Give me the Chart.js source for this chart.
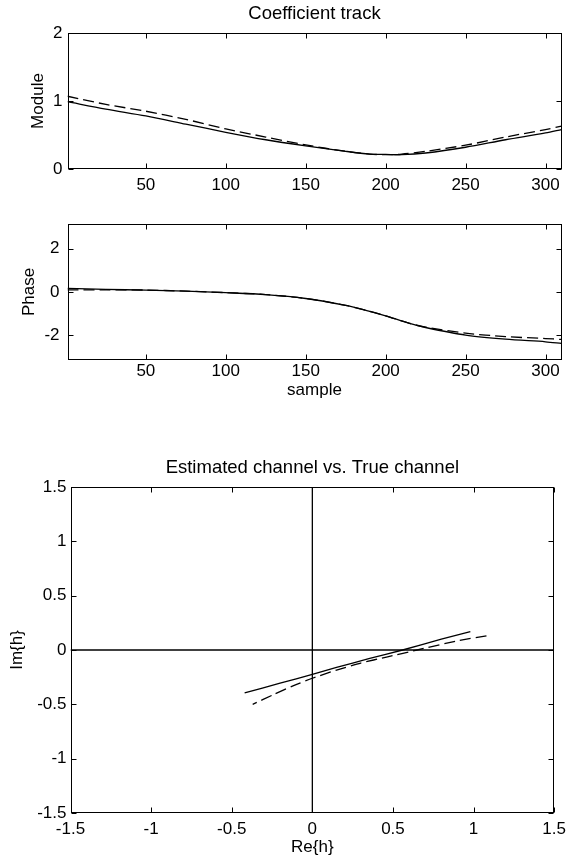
<!DOCTYPE html>
<html>
<head>
<meta charset="utf-8">
<script src="https://cdn.jsdelivr.net/npm/chart.js@4.4.1/dist/chart.umd.min.js"></script>
<style>
  body { margin: 0; background: #fff; }
  canvas { position: absolute; left: 0; }
</style>
</head>
<body>
<canvas id="module" width="572" height="200" style="top:0px"></canvas>
<canvas id="phase" width="572" height="210" style="top:200px"></canvas>
<canvas id="iq" width="572" height="453" style="top:410px"></canvas>
<script>
// values
const sampleTicks = [50, 100, 150, 200, 250, 300];

const moduleSamples = [1, 25, 50, 75, 100, 125, 150, 175, 190, 200, 210, 225, 250, 275, 300, 310];
const moduleTrue = [0.99, 0.88, 0.78, 0.66, 0.54, 0.43, 0.34, 0.26, 0.22, 0.215, 0.21, 0.235, 0.32, 0.43, 0.53, 0.58];
const moduleEst = [1.07, 0.95, 0.85, 0.73, 0.59, 0.47, 0.355, 0.26, 0.22, 0.21, 0.22, 0.26, 0.35, 0.47, 0.58, 0.63];
const moduleTicks = [0, 1, 2];

const phaseSamples = [1, 25, 50, 75, 100, 125, 150, 175, 190, 200, 215, 225, 250, 275, 300, 310];
const phaseTrue = [0.17, 0.12, 0.09, 0.04, -0.03, -0.12, -0.30, -0.62, -0.89, -1.10, -1.45, -1.64, -1.99, -2.18, -2.30, -2.37];
const phaseEst = [0.10, 0.10, 0.09, 0.04, -0.03, -0.12, -0.30, -0.62, -0.89, -1.10, -1.45, -1.62, -1.90, -2.06, -2.15, -2.19];
const phaseTicks = [-2, 0, 2];

const reTrue = [0.98, 0.80, 0.56, 0.35, 0.15, 0.00, -0.20, -0.42];
const imTrue = [0.17, 0.10, 0.00, -0.08, -0.16, -0.225, -0.305, -0.395];
const reEst = [1.08, 0.90, 0.65, 0.46, 0.30, 0.15, 0.00, -0.12, -0.24, -0.37];
const imEst = [0.13, 0.085, 0.00, -0.065, -0.12, -0.185, -0.26, -0.33, -0.41, -0.50];
const reImTicks = [-1.5, -1, -0.5, 0, 0.5, 1, 1.5];
const axisSpan = [-1.5, 1.5];

const FONT = '"Liberation Sans", Arial, Helvetica, sans-serif';
Chart.defaults.font.family = FONT;
Chart.defaults.font.size = 17;
Chart.defaults.color = '#000';

function pts(xs, ys) {
  return xs.map((x, i) => ({ x: x, y: ys[i] }));
}

// matlab style box with inward ticks + plot title
const boxPlugin = {
  id: 'box',
  afterDatasetsDraw(chart, args, opts) {
    const { ctx, chartArea: a, scales } = chart;
    const L = Math.round(a.left) + 0.5, R = Math.round(a.right) - 0.5;
    const T = Math.round(a.top) + 0.5, B = Math.round(a.bottom) - 0.5;
    ctx.save();
    ctx.strokeStyle = '#000';
    ctx.lineWidth = 1;
    ctx.strokeRect(L, T, R - L, B - T);
    const len = 5;
    ctx.beginPath();
    scales.x.ticks.forEach(t => {
      const px = Math.round(scales.x.getPixelForValue(t.value)) + 0.5;
      ctx.moveTo(px, B); ctx.lineTo(px, B - len);
      ctx.moveTo(px, T); ctx.lineTo(px, T + len);
    });
    scales.y.ticks.forEach(t => {
      const py = Math.round(scales.y.getPixelForValue(t.value)) + 0.5;
      ctx.moveTo(L, py); ctx.lineTo(L + len, py);
      ctx.moveTo(R, py); ctx.lineTo(R - len, py);
    });
    ctx.stroke();
    if (opts.text) {
      ctx.fillStyle = '#000';
      ctx.font = '18.5px ' + FONT;
      ctx.textAlign = 'center';
      ctx.textBaseline = 'alphabetic';
      ctx.fillText(opts.text, (a.left + a.right) / 2, opts.baseline);
    }
    ctx.restore();
  }
};

function lineSet(label, data, dashed, tension) {
  return {
    label: label,
    data: data,
    borderColor: '#000',
    borderWidth: 1.3,
    borderDash: dashed ? [11, 5] : [],
    pointRadius: 0,
    fill: false,
    tension: tension
  };
}

function makeChart(id, cfg) {
  return new Chart(document.getElementById(id), {
    type: 'line',
    data: { datasets: cfg.datasets },
    plugins: [boxPlugin],
    options: {
      responsive: false,
      animation: false,
      devicePixelRatio: 1,
      layout: { padding: cfg.padding },
      plugins: {
        legend: { display: false },
        tooltip: { enabled: false },
        box: cfg.box
      },
      scales: {
        x: {
          type: 'linear',
          min: cfg.xMin, max: cfg.xMax,
          afterBuildTicks: s => { s.ticks = cfg.xTicks.map(v => ({ value: v })); },
          afterFit: s => { s.height = cfg.xHeight; },
          grid: { display: false, drawTicks: false },
          border: { display: false },
          ticks: { padding: cfg.xPad, maxRotation: 0, autoSkip: false, callback: v => String(v) },
          title: cfg.xTitle ? { display: true, text: cfg.xTitle, padding: { top: 0, bottom: cfg.xTitlePad } } : { display: false }
        },
        y: {
          min: cfg.yMin, max: cfg.yMax,
          afterBuildTicks: s => { s.ticks = cfg.yTicks.map(v => ({ value: v })); },
          afterFit: s => { s.width = cfg.yWidth; },
          grid: { display: false, drawTicks: false },
          border: { display: false },
          ticks: { padding: cfg.yPad, autoSkip: false, callback: v => String(v) },
          title: { display: true, text: cfg.yTitle, padding: { top: cfg.yTitlePad, bottom: 0 } }
        }
      }
    }
  });
}

makeChart('module', {
  datasets: [
    lineSet('True channel', pts(moduleSamples, moduleTrue), false, 0.3),
    lineSet('Estimated channel', pts(moduleSamples, moduleEst), true, 0.3)
  ],
  padding: { top: 33, right: 10.5, bottom: 0, left: 0 },
  box: { text: 'Coefficient track', baseline: 19 },
  xMin: 1, xMax: 310, xTicks: sampleTicks, xHeight: 31, xPad: 6.5,
  yMin: 0, yMax: 2, yTicks: moduleTicks, yWidth: 67.5, yPad: 5,
  yTitle: 'Module', yTitlePad: 28
});

makeChart('phase', {
  datasets: [
    lineSet('True channel', pts(phaseSamples, phaseTrue), false, 0.3),
    lineSet('Estimated channel', pts(phaseSamples, phaseEst), true, 0.3)
  ],
  padding: { top: 24, right: 10.5, bottom: 0, left: 0 },
  box: {},
  xMin: 1, xMax: 310, xTicks: sampleTicks, xHeight: 50, xPad: 1.5,
  xTitle: 'sample', xTitlePad: 9,
  yMin: -Math.PI, yMax: Math.PI, yTicks: phaseTicks, yWidth: 67.5, yPad: 8,
  yTitle: 'Phase', yTitlePad: 19
});

makeChart('iq', {
  datasets: [
    lineSet('x axis', pts(axisSpan, [0, 0]), false, 0),
    lineSet('y axis', pts([0, 0], axisSpan), false, 0),
    lineSet('True channel', pts(reTrue, imTrue), false, 0.2),
    lineSet('Estimated channel', pts(reEst, imEst), true, 0.2)
  ],
  padding: { top: 77, right: 15.5, bottom: 0, left: 0 },
  box: { text: 'Estimated channel vs. True channel', baseline: 62.5 },
  xMin: -1.5, xMax: 1.5, xTicks: reImTicks, xHeight: 50, xPad: 6,
  xTitle: 'Re{h}', xTitlePad: 5.5,
  yMin: -1.5, yMax: 1.5, yTicks: reImTicks, yWidth: 70.5, yPad: 4,
  yTitle: 'Im{h}', yTitlePad: 7
});
</script>
</body>
</html>
